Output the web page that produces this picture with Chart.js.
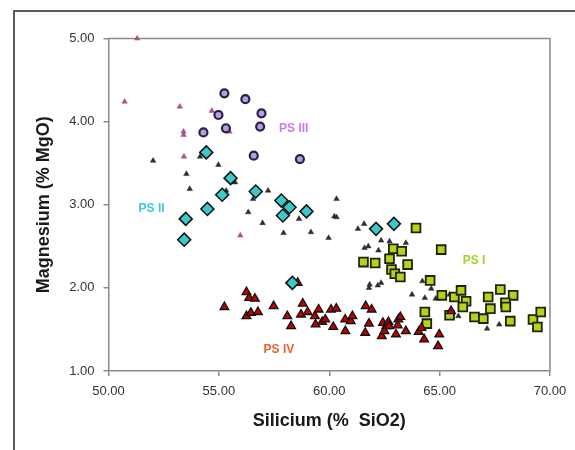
<!DOCTYPE html>
<html>
<head>
<meta charset="utf-8">
<script src="https://cdn.jsdelivr.net/npm/chart.js@4.4.1/dist/chart.umd.min.js"></script>
<style>
  html, body { margin: 0; padding: 0; background: #ffffff; }
  #wrap { width: 575px; height: 450px; position: relative; }
</style>
</head>
<body>
<div id="wrap"><canvas id="c" width="575" height="450"></canvas></div>
<script>
// ---- Data (SiO2 %, MgO %) ----
const xTicks = [50, 55, 60, 65, 70];
const yTicks = [1, 2, 3, 4, 5];

const psIII_x = [55.25, 56.2, 54.98, 56.93, 54.3, 55.32, 56.87, 56.58, 58.67];
const psIII_y = [4.34, 4.27, 4.08, 4.10, 3.87, 3.92, 3.94, 3.59, 3.55];

const psII_x = [54.43, 55.53, 55.15, 54.48, 56.67, 57.83, 58.2, 57.9, 58.97, 53.5, 53.43, 62.12, 62.93, 58.33];
const psII_y = [3.63, 3.32, 3.12, 2.95, 3.16, 3.05, 2.97, 2.87, 2.92, 2.83, 2.58, 2.71, 2.77, 2.06];

const psI_x = [63.93, 65.07, 62.9, 63.28, 61.55, 62.08, 62.73, 63.55, 62.82, 62.97, 63.22, 64.57, 65.1, 65.67, 65.97, 66.2, 66.05, 67.2, 67.75, 68.33, 67.98, 68.0, 67.3, 64.33, 65.45, 66.58, 66.98, 64.42, 68.2, 69.23, 69.58, 69.43];
const psI_y = [2.72, 2.46, 2.47, 2.44, 2.31, 2.30, 2.35, 2.28, 2.22, 2.17, 2.13, 2.09, 1.91, 1.89, 1.97, 1.84, 1.77, 1.89, 1.98, 1.91, 1.82, 1.77, 1.75, 1.71, 1.67, 1.65, 1.63, 1.57, 1.60, 1.62, 1.71, 1.53];

const psIV_x = [56.25, 56.37, 56.63, 55.25, 56.25, 56.45, 56.77, 57.48, 58.1, 58.27, 58.57, 58.8, 58.72, 59.02, 59.35, 59.52, 59.38, 59.68, 59.82, 60.08, 60.32, 60.18, 60.72, 60.73, 60.97, 61.05, 61.65, 61.92, 61.8, 61.63, 62.38, 62.43, 62.58, 62.68, 62.72, 63.02, 63.13, 63.22, 63.1, 63.47, 64.05, 64.18, 64.3, 64.98, 64.93, 65.52, 62.5];
const psIV_y = [1.95, 1.88, 1.87, 1.77, 1.66, 1.70, 1.71, 1.78, 1.66, 1.54, 2.06, 1.81, 1.68, 1.71, 1.66, 1.74, 1.56, 1.59, 1.62, 1.74, 1.75, 1.53, 1.62, 1.48, 1.60, 1.66, 1.78, 1.74, 1.57, 1.46, 1.42, 1.58, 1.54, 1.59, 1.54, 1.44, 1.62, 1.65, 1.55, 1.48, 1.47, 1.52, 1.38, 1.44, 1.30, 1.72, 1.48];

const other_x = [52.02, 54.15, 54.98, 53.53, 53.68, 55.73, 55.33, 55.25, 57.23, 56.55, 56.33, 56.98, 57.93, 58.63, 59.17, 59.97, 60.33, 60.23, 60.33, 61.3, 61.58, 62.35, 62.73, 63.47, 61.6, 61.77, 62.23, 61.83, 61.8, 62.2, 62.35, 63.75, 64.22, 64.33, 64.62, 64.82, 65.45, 65.85, 67.15, 67.7, 68.2];
const other_y = [3.53, 3.58, 3.48, 3.37, 3.19, 3.27, 3.17, 3.12, 3.17, 3.07, 2.91, 2.78, 2.66, 2.83, 2.67, 2.60, 3.07, 2.86, 2.85, 2.71, 2.77, 2.57, 2.56, 2.54, 2.48, 2.50, 2.45, 2.04, 2.00, 2.03, 2.06, 1.92, 2.08, 1.88, 1.99, 1.87, 1.92, 1.66, 1.51, 1.56, 1.60];

const pink_x = [51.3, 50.73, 53.23, 54.68, 53.4, 53.4, 55.48, 53.42, 55.97];
const pink_y = [5.00, 4.24, 4.18, 4.13, 3.88, 3.84, 3.88, 3.58, 2.63];

const groupNames = ['PS III', 'PS II', 'PS I', 'PS IV'];
const groupLabelX = [58.39, 51.95, 66.56, 57.72];
const groupLabelY = [3.915, 2.957, 2.327, 1.261];
const groupLabelColors = ['#c77de8', '#3ecbd6', '#a8d02a', '#f0602a'];

function pts(xs, ys) { return xs.map((x, i) => ({ x: x, y: ys[i] })); }

const FONT = "'Liberation Sans', Arial, sans-serif";

const framePlugin = {
  id: 'frame',
  beforeDraw(chart) {
    const ctx = chart.ctx;
    ctx.save();
    ctx.fillStyle = '#ffffff';
    ctx.fillRect(0, 0, chart.width, chart.height);
    ctx.strokeStyle = '#5a5a5a';
    ctx.lineWidth = 2;
    ctx.beginPath();
    ctx.moveTo(14, chart.height);
    ctx.lineTo(14, 11);
    ctx.lineTo(chart.width, 11);
    ctx.stroke();
    ctx.restore();
  },
  beforeDatasetsDraw(chart) {
    const a = chart.chartArea;
    const ctx = chart.ctx;
    ctx.save();
    ctx.strokeStyle = '#8a8a8a';
    ctx.lineWidth = 1.5;
    ctx.beginPath();
    ctx.moveTo(a.left, a.top);
    ctx.lineTo(a.right, a.top);
    ctx.lineTo(a.right, a.bottom);
    ctx.stroke();
    ctx.restore();
  },
  afterDatasetsDraw(chart) {
    const ctx = chart.ctx;
    const xs = chart.scales.x, ys = chart.scales.y;
    ctx.save();
    ctx.font = "bold 12px " + FONT;
    ctx.textAlign = 'center';
    ctx.textBaseline = 'middle';
    groupNames.forEach((n, i) => {
      ctx.fillStyle = groupLabelColors[i];
      ctx.fillText(n, xs.getPixelForValue(groupLabelX[i]), ys.getPixelForValue(groupLabelY[i]));
    });
    ctx.restore();
  }
};

new Chart(document.getElementById('c'), {
  type: 'scatter',
  data: {
    datasets: [
      { label: 'PS II', data: pts(psII_x, psII_y), pointStyle: 'rectRot', pointRadius: 6.5, backgroundColor: '#3cc9c9', borderColor: '#111111', borderWidth: 1.5, clip: false },
      { label: 'PS IV', data: pts(psIV_x, psIV_y), pointStyle: 'triangle', pointRadius: 5, backgroundColor: '#c00000', borderColor: '#111111', borderWidth: 1.3, clip: false },
      { label: 'PS III', data: pts(psIII_x, psIII_y), pointStyle: 'circle', pointRadius: 4, backgroundColor: '#b79ee0', borderColor: '#2a1f48', borderWidth: 2.2, clip: false },
      { label: 'PS I', data: pts(psI_x, psI_y), pointStyle: 'rect', pointRadius: 6.2, backgroundColor: '#b4d418', borderColor: '#1c2408', borderWidth: 1.8, clip: false },
      { label: 'Pink', data: pts(pink_x, pink_y), pointStyle: 'triangle', pointRadius: 3.2, backgroundColor: '#b24f8d', borderColor: '#b24f8d', borderWidth: 0.5, clip: false },
      { label: 'Other', data: pts(other_x, other_y), pointStyle: 'triangle', pointRadius: 3.2, backgroundColor: '#2e2e2e', borderColor: '#2e2e2e', borderWidth: 0.5, clip: false }
    ]
  },
  options: {
    responsive: false,
    animation: false,
    devicePixelRatio: 1,
    layout: { padding: { left: 14, top: 38.5, right: 25, bottom: 0 } },
    plugins: { legend: { display: false }, tooltip: { enabled: false } },
    scales: {
      x: {
        type: 'linear', min: 50, max: 70,
        afterBuildTicks(s) { s.ticks = xTicks.map(v => ({ value: v })); },
        afterFit(s) { s.height = 79; },
        ticks: { callback: v => Number(v).toFixed(2), font: { family: FONT, size: 13 }, color: '#333333', padding: 8, maxRotation: 0 },
        grid: { drawOnChartArea: false, drawTicks: true, tickLength: 5, color: '#8a8a8a', lineWidth: 1.5 },
        border: { color: '#8a8a8a', width: 1.5 },
        title: { display: true, text: 'Silicium (%  SiO2)', font: { family: FONT, size: 18, weight: 'bold' }, color: '#1a1a1a', padding: { top: 0, bottom: 18 } }
      },
      y: {
        type: 'linear', min: 1, max: 5,
        afterBuildTicks(s) { s.ticks = yTicks.map(v => ({ value: v })); },
        afterFit(s) { s.width = 94.5; },
        ticks: { callback: v => Number(v).toFixed(2), font: { family: FONT, size: 13 }, color: '#333333', padding: 9 },
        grid: { drawOnChartArea: false, drawTicks: true, tickLength: 5, color: '#8a8a8a', lineWidth: 1.5 },
        border: { color: '#8a8a8a', width: 1.5 },
        title: { display: true, text: 'Magnesium (% MgO)', font: { family: FONT, size: 18, weight: 'bold' }, color: '#1a1a1a', padding: { top: 19, bottom: 0 } }
      }
    }
  },
  plugins: [framePlugin]
});
</script>
</body>
</html>
